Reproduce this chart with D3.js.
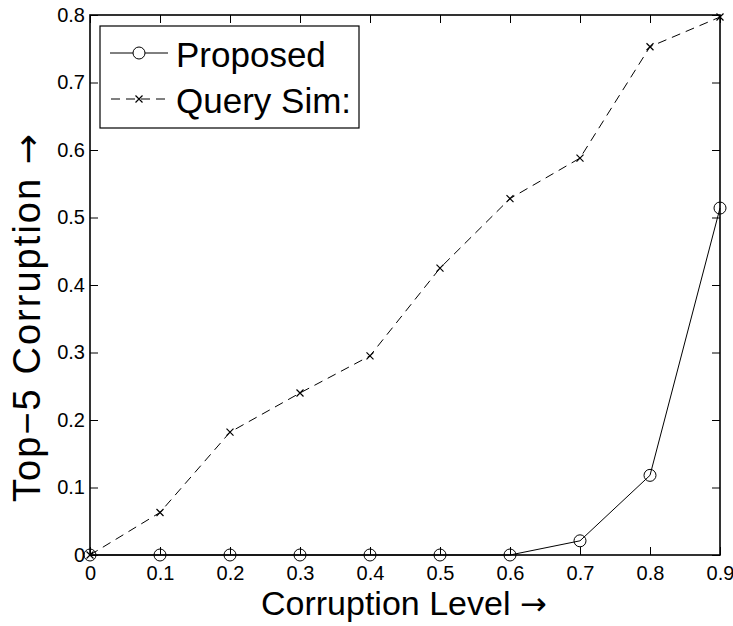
<!DOCTYPE html>
<html><head><meta charset="utf-8">
<script src="https://cdn.jsdelivr.net/npm/d3@7"></script>
<style>body{margin:0;background:#fff}svg{display:block}text{font-family:"Liberation Sans",Arial,sans-serif;fill:#000}</style>
</head><body>
<script>
const corruptionLevels = [0, 0.1, 0.2, 0.3, 0.4, 0.5, 0.6, 0.7, 0.8, 0.9];
const proposed = [0, 0, 0, 0, 0, 0, 0, 0.021, 0.118, 0.514];
const querySim = [0, 0.063, 0.182, 0.240, 0.295, 0.425, 0.528, 0.588, 0.753, 0.797];
const xTicks = [0, 0.1, 0.2, 0.3, 0.4, 0.5, 0.6, 0.7, 0.8, 0.9];
const yTicks = [0, 0.1, 0.2, 0.3, 0.4, 0.5, 0.6, 0.7, 0.8];
const seriesNames = ["Proposed", "Query Sim:"];

const W = 733, H = 626;
const m = {left: 90, right: 13, top: 15, bottom: 71};
const svg = d3.select("body").append("svg").attr("width", W).attr("height", H);
const x = d3.scaleLinear().domain([0, 0.9]).range([m.left, W - m.right]);
const y = d3.scaleLinear().domain([0, 0.8]).range([H - m.bottom, m.top]);
const tk = 8;

// box
svg.append("rect").attr("x", x(0)).attr("y", y(0.8)).attr("width", x(0.9) - x(0)).attr("height", y(0) - y(0.8))
  .attr("fill", "none").attr("stroke", "#000").attr("stroke-width", 1.6);

// ticks
const fmt = d => d === 0 ? "0" : d3.format(".1f")(d);
const xb = svg.append("g").attr("transform", `translate(0,${y(0)})`)
  .call(d3.axisBottom(x).tickValues(xTicks).tickFormat(fmt).tickSizeInner(-tk).tickSizeOuter(0).tickPadding(11));
const xt = svg.append("g").attr("transform", `translate(0,${y(0.8)})`)
  .call(d3.axisTop(x).tickValues(xTicks).tickFormat("").tickSizeInner(-tk).tickSizeOuter(0));
const yl = svg.append("g").attr("transform", `translate(${x(0)},0)`)
  .call(d3.axisLeft(y).tickValues(yTicks).tickFormat(fmt).tickSizeInner(-tk).tickSizeOuter(0).tickPadding(5));
const yr = svg.append("g").attr("transform", `translate(${x(0.9)},0)`)
  .call(d3.axisRight(y).tickValues(yTicks).tickFormat("").tickSizeInner(-tk).tickSizeOuter(0));
[xb, xt, yl, yr].forEach(g => {
  g.select(".domain").remove();
  g.selectAll(".tick line").attr("stroke", "#000").attr("stroke-width", 1);
  g.selectAll("text").attr("font-size", 20).attr("font-family", '"Liberation Sans",Arial,sans-serif').attr("fill", "#000");
});

// lines
const line = d3.line().x((d, i) => x(corruptionLevels[i])).y(d => y(d));
svg.append("path").datum(querySim).attr("d", line).attr("fill", "none").attr("stroke", "#000")
  .attr("stroke-width", 1).attr("stroke-dasharray", "9,6");
svg.append("path").datum(proposed).attr("d", line).attr("fill", "none").attr("stroke", "#000").attr("stroke-width", 1);

function cross(g, cx, cy) {
  const s = 3.5;
  g.append("path").attr("d", `M${cx - s},${cy - s}L${cx + s},${cy + s}M${cx - s},${cy + s}L${cx + s},${cy - s}`)
    .attr("stroke", "#000").attr("stroke-width", 1.2);
}
const mk = svg.append("g");
proposed.forEach((v, i) => mk.append("circle").attr("cx", x(corruptionLevels[i])).attr("cy", y(v)).attr("r", 6)
  .attr("fill", "none").attr("stroke", "#000").attr("stroke-width", 1));
querySim.forEach((v, i) => cross(mk, x(corruptionLevels[i]), y(v)));

// legend
const lg = svg.append("g");
lg.append("rect").attr("x", 100).attr("y", 26).attr("width", 259).attr("height", 102)
  .attr("fill", "#fff").attr("stroke", "#000").attr("stroke-width", 1.2);
const rows = [53, 99];
lg.append("line").attr("x1", 110).attr("x2", 168).attr("y1", rows[0]).attr("y2", rows[0]).attr("stroke", "#000");
lg.append("circle").attr("cx", 139).attr("cy", rows[0]).attr("r", 6).attr("fill", "#fff").attr("stroke", "#000");
lg.append("line").attr("x1", 110).attr("x2", 168).attr("y1", rows[1]).attr("y2", rows[1]).attr("stroke", "#000").attr("stroke-dasharray", "9,6").attr("stroke-dashoffset", -1);
cross(lg, 139, rows[1]);
seriesNames.forEach((n, i) => lg.append("text").attr("x", 176).attr("y", rows[i] + 14)
  .attr("font-size", 35).text(n));

// axis titles
const xl = svg.append("text").attr("x", 261).attr("y", 615).attr("font-size", 34);
xl.append("tspan").text("Corruption Level ");
xl.append("tspan").attr("font-family", '"DejaVu Sans"').attr("font-size", 32).text("\u2192");
const ylab = svg.append("text").attr("transform", "translate(40,318) rotate(-90)").attr("text-anchor", "middle")
  .attr("font-size", 38).attr("textLength", 368).attr("lengthAdjust", "spacing");
ylab.append("tspan").text("Top\u22125 Corruption ");
ylab.append("tspan").attr("font-family", '"DejaVu Sans"').attr("font-size", 36).text("\u2192");
</script>
</body></html>
